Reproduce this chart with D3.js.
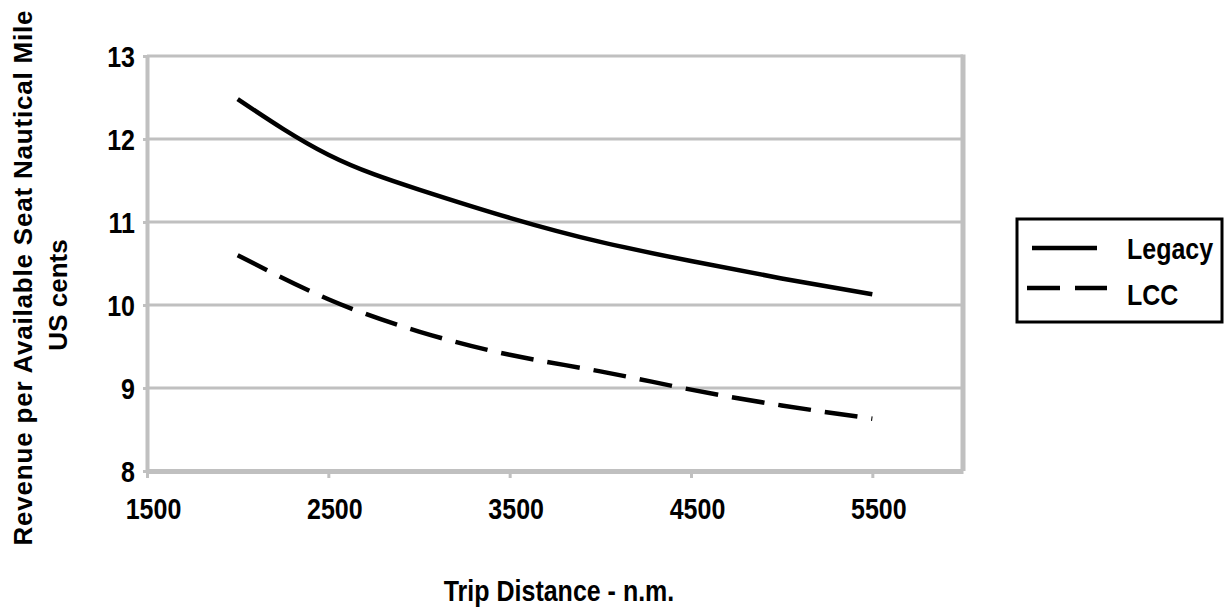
<!DOCTYPE html>
<html>
<head>
<meta charset="utf-8">
<script src="https://cdn.jsdelivr.net/npm/d3@7"></script>
<style>
  html, body { margin: 0; padding: 0; background: #fff; }
  svg { display: block; }
  text { font-family: "Liberation Sans", Arial, sans-serif; font-weight: bold; fill: #000; }
</style>
</head>
<body>
<svg id="chart" width="1226" height="612"></svg>
<script>
// ---- data ----
const distances = [2000, 2500, 3000, 3500, 4000, 4500, 5000, 5500];
const legacy = [12.48, 11.81, 11.39, 11.05, 10.76, 10.53, 10.32, 10.13];
const lcc = [10.60, 10.07, 9.68, 9.40, 9.20, 8.98, 8.79, 8.63];
const xTicks = [1500, 2500, 3500, 4500, 5500];
const yTicks = [8, 9, 10, 11, 12, 13];
const seriesNames = ["Legacy", "LCC"];
const xTitle = "Trip Distance - n.m.";
const yTitle1 = "Revenue per Available Seat Nautical Mile";
const yTitle2 = "US cents";

// ---- layout ----
const plotL = 147, plotR = 963, plotT = 56, plotB = 471;
const grid = "#c0c0c0";
const stretch = 1.2;

const svg = d3.select("#chart");
const x = d3.scaleLinear().domain([1500, 6000]).range([plotL, plotR]);
const y = d3.scaleLinear().domain([8, 13]).range([plotB, plotT]);

// gridlines
svg.append("g").selectAll("line").data(yTicks.filter(d => d > 8)).join("line")
  .attr("x1", plotL).attr("x2", plotR)
  .attr("y1", d => y(d)).attr("y2", d => y(d))
  .attr("stroke", grid).attr("stroke-width", 3);

// right border
svg.append("line").attr("x1", plotR).attr("x2", plotR)
  .attr("y1", plotT - 1.5).attr("y2", plotB)
  .attr("stroke", grid).attr("stroke-width", 5);

// y axis
const yAxis = svg.append("g").attr("transform", `translate(${plotL},0)`)
  .call(d3.axisLeft(y).tickValues(yTicks).tickSize(4).tickSizeOuter(0).tickFormat(d3.format("d")));
yAxis.select(".domain").attr("stroke", grid).attr("stroke-width", 4);
yAxis.selectAll(".tick line").attr("stroke", grid).attr("stroke-width", 3);
yAxis.selectAll(".tick text")
  .attr("x", null).attr("dy", null).attr("y", null)
  .attr("text-anchor", "end")
  .attr("font-size", 25)
  .attr("transform", `translate(-12,10) scale(1,${stretch})`);

// x axis
const xAxis = svg.append("g").attr("transform", `translate(0,${plotB})`)
  .call(d3.axisBottom(x).tickValues(xTicks).tickSize(7).tickSizeOuter(0).tickFormat(d3.format("d")));
xAxis.select(".domain").attr("stroke", grid).attr("stroke-width", 5);
xAxis.selectAll(".tick line").attr("stroke", grid).attr("stroke-width", 3);
xAxis.selectAll(".tick text")
  .attr("y", null).attr("dy", null)
  .attr("text-anchor", "middle")
  .attr("font-size", 25)
  .attr("transform", `translate(6,48) scale(1,${stretch})`);

// lines
const line = d3.line().x(d => x(d[0])).y(d => y(d[1])).curve(d3.curveNatural);
svg.append("path").datum(distances.map((d, i) => [d, legacy[i]]))
  .attr("d", line).attr("fill", "none").attr("stroke", "#000").attr("stroke-width", 4.5);
svg.append("path").datum(distances.map((d, i) => [d, lcc[i]]))
  .attr("d", line).attr("fill", "none").attr("stroke", "#000").attr("stroke-width", 4.5)
  .attr("stroke-dasharray", "33,14");

// legend
const lg = svg.append("g");
lg.append("rect").attr("x", 1017).attr("y", 219).attr("width", 205).attr("height", 103)
  .attr("fill", "#fff").attr("stroke", "#000").attr("stroke-width", 3);
lg.append("line").attr("x1", 1032).attr("x2", 1097).attr("y1", 248).attr("y2", 248)
  .attr("stroke", "#000").attr("stroke-width", 4.5);
lg.append("line").attr("x1", 1027).attr("x2", 1107).attr("y1", 288).attr("y2", 288)
  .attr("stroke", "#000").attr("stroke-width", 4.5).attr("stroke-dasharray", "33,15");
lg.selectAll("text").data(seriesNames).join("text")
  .attr("font-size", 25)
  .attr("transform", (d, i) => `translate(1127,${i === 0 ? 259 : 305}) scale(1,${stretch})`)
  .text(d => d);

// axis titles
svg.append("text").attr("font-size", 25).attr("text-anchor", "middle")
  .attr("transform", `translate(559,601) scale(1,${stretch})`)
  .text(xTitle);
svg.append("text").attr("font-size", 26).attr("text-anchor", "middle")
  .attr("textLength", 535).attr("lengthAdjust", "spacing")
  .attr("transform", `translate(32,278) rotate(-90)`)
  .text(yTitle1);
svg.append("text").attr("font-size", 26).attr("text-anchor", "middle")
  .attr("transform", `translate(67,295) rotate(-90)`)
  .text(yTitle2);
</script>
</body>
</html>
